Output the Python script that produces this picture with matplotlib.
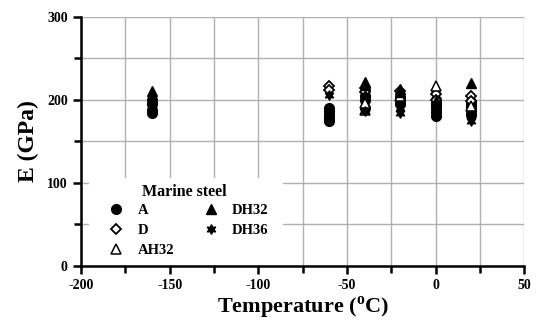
import matplotlib
matplotlib.use("Agg")
import matplotlib.pyplot as plt
from matplotlib.patches import Rectangle
from matplotlib.ticker import MultipleLocator

plt.rcParams["font.family"] = "Liberation Serif"
plt.rcParams["font.weight"] = "bold"
plt.rcParams["axes.unicode_minus"] = False
plt.rcParams["mathtext.fontset"] = "custom"
plt.rcParams["mathtext.rm"] = "Liberation Serif:bold"
plt.rcParams["mathtext.bf"] = "Liberation Serif:bold"

# Young's modulus (GPa), per grade and test temperature
temp_a = [-160, -160, -160, -160, -60, -60, -60, -60, -60, -40, -40, -40,
          -20, -20, -20, 0, 0, 0, 0, 0, 20, 20, 20, 20, 20]
e_a = [184, 188, 195, 200, 174, 178, 182, 186, 190, 190, 200, 205,
       195, 200, 203, 180, 185, 190, 195, 200, 182, 186, 190, 194, 197]

temp_d = [-60, -60, -40, -40, -20, 0, 0, 20, 20]
e_d = [217, 212, 214, 209, 210, 207, 200, 204, 199]

temp_ah32 = [-40, -40, -20, 0, 20]
e_ah32 = [188, 196, 205, 217, 193]

temp_dh32 = [-160, -40, -40, -20, -20, 0, 20]
e_dh32 = [211, 222, 218, 213, 209, 199, 220]

temp_dh36 = [-60, -40, -40, -20, -20, 0, 20, 20]
e_dh36 = [206, 186, 206, 190, 184, 195, 175, 181]

fig = plt.figure(figsize=(5.44, 3.24), dpi=100)
ax = fig.add_axes([0.149, 0.18, 0.815, 0.768])

ms = 7
ax.plot(temp_a, e_a, "o", color="black", ms=ms, label="A", zorder=3)
ax.plot(temp_d, e_d, "D", mfc="white", mec="black", mew=1.3, ms=5, label="D", zorder=3)
ax.plot(temp_ah32, e_ah32, "^", mfc="white", mec="black", mew=1.1, ms=ms, label="AH32", zorder=3)
ax.plot(temp_dh32, e_dh32, "^", color="black", ms=ms, label="DH32", zorder=3)
ax.plot(temp_dh36, e_dh36, marker=(6, 1, 0), ls="none", color="black", ms=ms,
        label="DH36", zorder=3)

ax.set_xlim(-200, 50)
ax.set_ylim(0, 300)
ax.xaxis.set_major_locator(MultipleLocator(50))
ax.xaxis.set_minor_locator(MultipleLocator(25))
ax.yaxis.set_major_locator(MultipleLocator(100))
ax.yaxis.set_minor_locator(MultipleLocator(50))
ax.grid(True, which="both", color="#b0b0b0", lw=1.0, zorder=0)
ax.set_axisbelow(True)

for side in ["top", "right"]:
    ax.spines[side].set_visible(False)
for side in ["left", "bottom"]:
    ax.spines[side].set_linewidth(1.8)
ax.tick_params(which="both", direction="out", width=1.8, labelsize=10)
ax.tick_params(which="major", length=6)
ax.tick_params(which="minor", length=5)
for lab in ax.get_xticklabels() + ax.get_yticklabels():
    lab.set_fontweight("bold")

ax.set_xlabel(r"Temperature ($^\mathrm{o}$C)", fontsize=16, fontweight="bold", labelpad=2)
ax.set_ylabel("E (GPa)", fontsize=17, fontweight="bold", labelpad=6)

# white patch behind the legend hides the grid there
ax.add_patch(Rectangle((0.018, 0.004), 0.437, 0.35, transform=ax.transAxes,
                       facecolor="white", edgecolor="none", zorder=2))
ax.text(0.137, 0.298, "Marine steel", transform=ax.transAxes, fontsize=11.5,
        fontweight="bold", ha="left", va="center", zorder=4)

leg = ax.legend(ncol=2, loc="upper left", bbox_to_anchor=(0.063, 0.25),
                frameon=False, fontsize=10.5, columnspacing=2.0, handlelength=1.0,
                handletextpad=0.95, labelspacing=0.48, borderpad=0, borderaxespad=0)
leg.set_zorder(5)
for t in leg.get_texts():
    t.set_fontweight("bold")

fig.savefig("out.png", dpi=100)
